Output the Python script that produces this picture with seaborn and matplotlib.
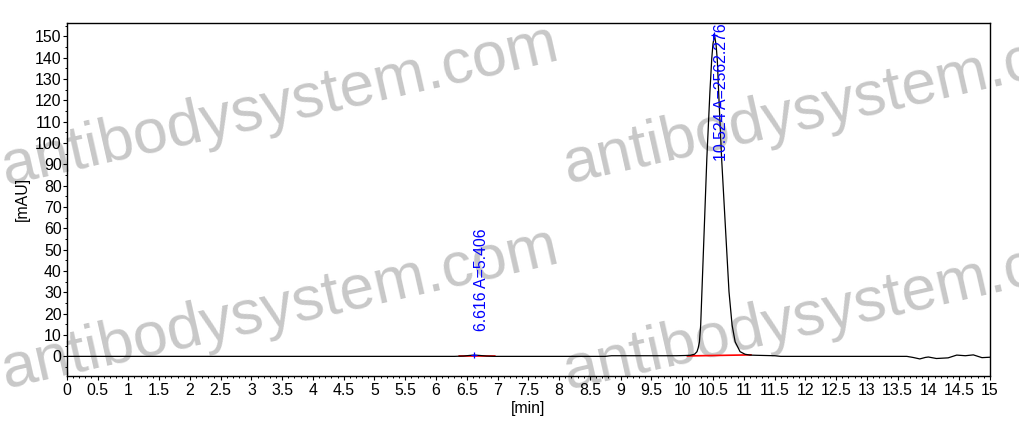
import matplotlib
matplotlib.use("Agg")
import matplotlib.pyplot as plt
from matplotlib.ticker import MultipleLocator
import seaborn as sns
import pandas as pd

# ---- data ----
rt_min = [0.0, 6.30, 6.45, 6.55, 6.616, 6.70, 6.82, 6.95, 8.75, 8.85, 9.90,
          10.05, 10.13, 10.20, 10.24, 10.26, 10.28, 10.30, 10.32, 10.36, 10.40,
          10.45, 10.48, 10.50, 10.524, 10.55, 10.57, 10.59, 10.64, 10.70,
          10.76, 10.81, 10.86, 10.94, 11.02, 11.10, 11.21, 11.50, 11.60,
          13.65, 13.75, 13.86, 13.95, 14.00, 14.13, 14.32, 14.46, 14.60,
          14.73, 14.87, 15.00]
signal_mAU = [0.0, 0.0, 0.15, 0.45, 0.6, 0.45, 0.15, 0.0, 0.0, 0.3, 0.3,
              0.4, 0.5, 1.0, 2.2, 4.0, 6.8, 14.7, 30.3, 61.5, 92.8,
              124.0, 139.7, 146.5, 150.6, 146.0, 139.0, 125.0, 92.8, 61.5,
              30.3, 14.7, 6.8, 2.2, 1.0, 0.6, 0.5, 0.3, 0.0,
              0.0, -0.5, -1.2, -0.5, -0.3, -1.0, -0.7, 0.6, 0.3,
              0.7, -0.6, -0.4]

peak_rt = [6.616, 10.524]
peak_height = [0.6, 150.6]
peak_area = [5.406, 2562.276]
peak_label_y = [11.7, 91.4]
base_start = [6.37, 10.08]
base_end = [6.96, 11.12]
base_start_val = [0.1, 0.2]
base_end_val = [0.1, 0.7]

x_ticks = [i * 0.5 for i in range(31)]
x_tick_labels = [f"{v:g}" for v in x_ticks]
y_ticks = list(range(0, 151, 10))

watermark = "antibodysystem.com"

# ---- plot ----
sns.set_theme(style="ticks")
plt.rcParams["font.family"] = ["Liberation Sans", "DejaVu Sans"]

fig = plt.figure(figsize=(10.19, 4.25), dpi=100)
ax = fig.add_axes([0.0655, 0.1153, 0.906, 0.8313])
ax.set_facecolor("none")

# watermark behind everything
for (wx, wy) in [(0.005, 0.565), (0.557, 0.569), (0.005, 0.087), (0.557, 0.085)]:
    fig.text(wx, wy, watermark, fontsize=45, color="#c8c8c8", rotation=12.8,
             rotation_mode="anchor", ha="left", va="baseline", zorder=-5)

df = pd.DataFrame({"rt": rt_min, "mAU": signal_mAU})
sns.lineplot(data=df, x="rt", y="mAU", ax=ax, color="black", linewidth=0.9,
             estimator=None, sort=False, zorder=3)

# integration baselines
for xs, xe, ys, ye in zip(base_start, base_end, base_start_val, base_end_val):
    ax.plot([xs, xe], [ys, ye], color="red", linewidth=1.2, zorder=2)

# peak markers and labels
for rt, h, a, ly in zip(peak_rt, peak_height, peak_area, peak_label_y):
    ax.plot([rt], [h], marker="+", color="blue", markersize=5, mew=0.9, zorder=4)
    ax.text(rt, ly, f"{rt:.3f} A={a:.3f}", rotation=90, color="blue",
            fontsize=11.4, ha="left", va="bottom", zorder=5, clip_on=False)

ax.set_xlim(0, 15)
ax.set_ylim(-9.2, 156.4)
ax.set_xticks(x_ticks)
ax.set_xticklabels(x_tick_labels)
ax.set_yticks(y_ticks)
ax.xaxis.set_minor_locator(MultipleLocator(0.1))
ax.yaxis.set_minor_locator(MultipleLocator(5))

for s in ax.spines.values():
    s.set_visible(True)
    s.set_color("black")
    s.set_linewidth(1.0)

ax.tick_params(axis="both", which="major", direction="out", length=2.8, width=0.8,
               color="black", labelsize=11.4, labelcolor="black")
ax.tick_params(axis="x", which="major", pad=2)
ax.tick_params(axis="y", which="major", pad=0.8)
ax.tick_params(axis="both", which="minor", direction="out", length=1.6, width=0.7,
               color="black")
ax.tick_params(top=False, right=False, which="both")

ax.set_xlabel("[min]", fontsize=11.4, color="black")
ax.set_ylabel("[mAU]", fontsize=11.4, color="black")
ax.xaxis.label.set_va("center")
ax.yaxis.label.set_va("center")
ax.xaxis.set_label_coords(0.5, -0.0907)
ax.yaxis.set_label_coords(-0.0477, 0.5)

fig.savefig("out.png", dpi=100)
